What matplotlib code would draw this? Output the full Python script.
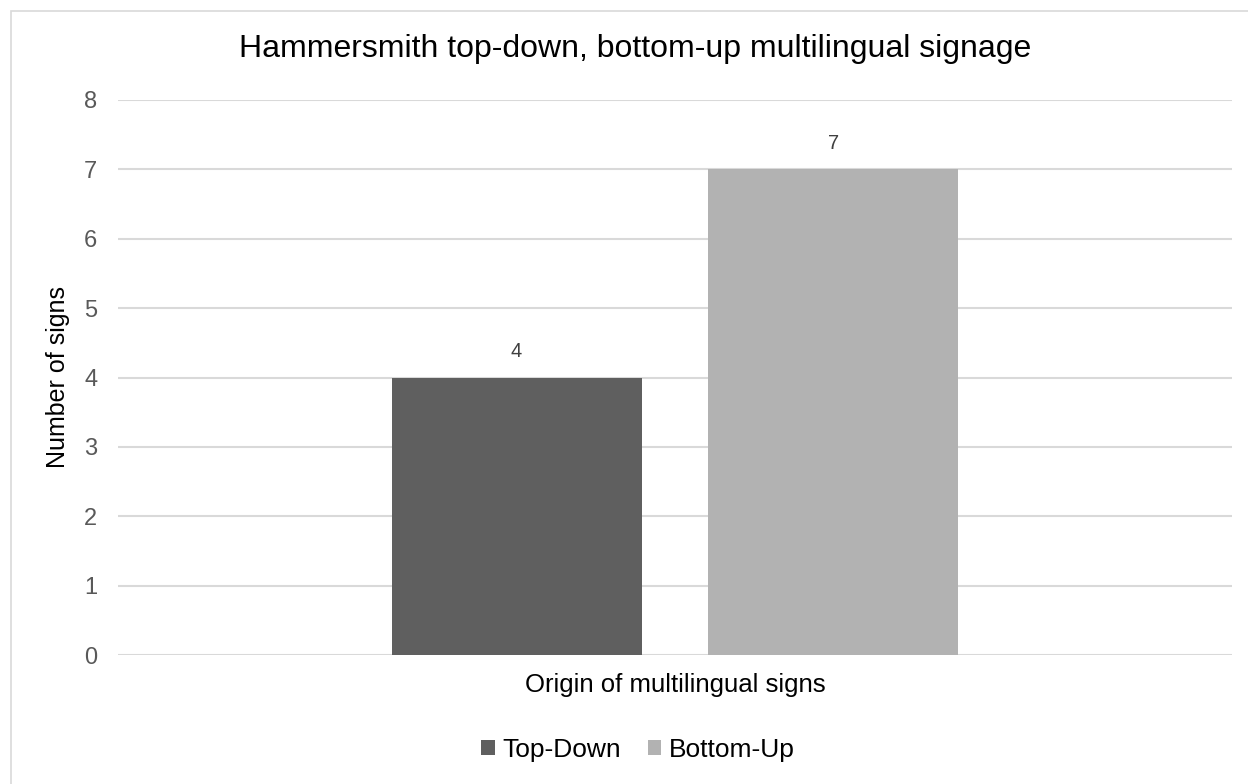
import matplotlib.pyplot as plt
from matplotlib.patches import Rectangle

plt.rcParams['font.family'] = ['Liberation Sans', 'DejaVu Sans']

category = "Origin of multilingual signs"
series = ["Top-Down", "Bottom-Up"]
counts = [4, 7]
colors = ["#5f5f5f", "#b2b2b2"]

fig = plt.figure(figsize=(12.48, 7.84), dpi=100)
ax = fig.add_axes([118 / 1248, 1 - 655 / 784, 1114 / 1248, 555 / 784])

# outer chart border (right and bottom edges fall outside the image)
fig.patches.append(Rectangle((11 / 1248, -0.05), 1.2, 1 - 11 / 784 + 0.05,
                             transform=fig.transFigure, fill=False,
                             edgecolor="#d9d9d9", linewidth=1.2))

width = 0.2244
gap = 0.06
offsets = [-(width + gap) / 2, (width + gap) / 2]
for off, name, val, col in zip(offsets, series, counts, colors):
    b = ax.bar(off, val, width=width, color=col, label=name, zorder=3)
    ax.bar_label(b, padding=12, fontsize=14.5, color="#404040")

ax.set_xlim(-0.5, 0.5)
ax.set_ylim(0, 8)
ax.set_yticks(range(0, 9))
ax.set_xticks([0])
ax.set_xticklabels([category], fontsize=18.5, color="black")
ax.tick_params(axis='x', length=0, pad=13)
ax.tick_params(axis='y', length=0, pad=15, labelsize=17, labelcolor="#595959")
ax.grid(axis='y', color="#d9d9d9", linewidth=1.5, zorder=0)
for s in ax.spines.values():
    s.set_visible(False)

ax.set_ylabel("Number of signs", fontsize=18)
ax.yaxis.set_label_coords(-0.043, 0.5)
fig.text(635 / 1248, 1 - 49 / 784, "Hammersmith top-down, bottom-up multilingual signage",
         ha="center", va="center", fontsize=23)

fig.legend(loc="center", bbox_to_anchor=(638 / 1248, 1 - 750 / 784), ncol=2,
           frameon=False, fontsize=19, handlelength=0.5, handleheight=0.5,
           handletextpad=0.3, columnspacing=1.0)

fig.savefig("out.png", dpi=100, facecolor="white")
